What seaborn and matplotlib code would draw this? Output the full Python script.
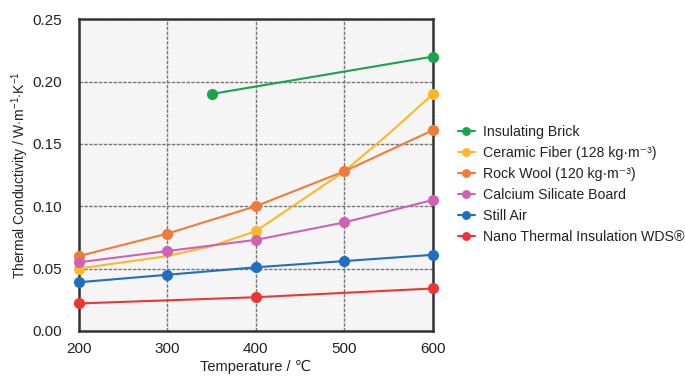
import pandas as pd
import seaborn as sns
import matplotlib.pyplot as plt

sns.set_theme(style="white")
plt.rcParams['font.family'] = ['Liberation Sans', 'DejaVu Sans']
plt.rcParams['mathtext.fontset'] = 'custom'
plt.rcParams['mathtext.rm'] = 'Liberation Sans'
plt.rcParams['mathtext.it'] = 'Liberation Sans'

# 数据
temps = [200, 300, 400, 500, 600]
brick_t = [350, 600]
brick = [0.190, 0.220]
# ceramic fiber curve read at 50 deg steps, markers only at 200/400/600
ceramic_t = [200, 250, 300, 350, 400, 450, 500, 550, 600]
ceramic = [0.050, 0.055, 0.060, 0.068, 0.080, 0.104, 0.128, 0.158, 0.190]
rock_wool = [0.060, 0.078, 0.100, 0.128, 0.161]
calcium = [0.055, 0.064, 0.073, 0.087, 0.105]
still_air = [0.039, 0.045, 0.051, 0.056, 0.061]
nano_t = [200, 400, 600]
nano = [0.022, 0.027, 0.034]

labels = ["Insulating Brick",
          "Ceramic Fiber (128 kg·m⁻³)",
          "Rock Wool (120 kg·m⁻³)",
          "Calcium Silicate Board",
          "Still Air",
          "Nano Thermal Insulation WDS®"]
colors = ["#19a34a", "#fbb829", "#f07c36", "#d062b2", "#1f6ec0", "#ee3535"]

fig = plt.figure(figsize=(6.85, 3.76), dpi=100)
ax = fig.add_axes([0.115, 0.12, 0.517, 0.829])
ax.set_facecolor("#f5f5f5")

series = [(brick_t, brick, None), (ceramic_t, ceramic, [0, 4, 8]),
          (temps, rock_wool, None), (temps, calcium, None),
          (temps, still_air, None), (nano_t, nano, None)]
for (x, y, mk), lab, c in zip(series, labels, colors):
    kw = {}
    if mk is not None:
        kw['markevery'] = mk
    sns.lineplot(x=x, y=y, ax=ax, color=c, marker='o', markersize=8,
                 markeredgewidth=0, linewidth=1.5, label=lab, clip_on=False,
                 zorder=3, **kw)

ax.set_xlim(200, 600)
ax.set_ylim(0, 0.25)
ax.set_xticks(temps)
ax.set_yticks([0, 0.05, 0.10, 0.15, 0.20, 0.25])
ax.set_yticklabels(["0.00", "0.05", "0.10", "0.15", "0.20", "0.25"])
ax.grid(True, color="#777777", linestyle=(0, (2.5, 1)), linewidth=1.0)
ax.set_axisbelow(True)
for s in ax.spines.values():
    s.set_color("#333333")
    s.set_linewidth(1.8)
ax.tick_params(axis='both', labelsize=11, colors="#222222", length=0)
ax.tick_params(axis='y', pad=12)
ax.tick_params(axis='x', pad=8)
ax.set_xlabel("Temperature / ℃", fontsize=10.5, labelpad=3, color="#222222")
ax.set_ylabel(r"Thermal Conductivity / W$\cdot$m$^{-1}$$\cdot$K$^{-1}$",
              fontsize=10, color="#222222", labelpad=1)

leg = ax.legend(loc='center left', bbox_to_anchor=(1.054, 0.469), frameon=False,
                fontsize=10.2, handlelength=1.2, labelspacing=0.5,
                handletextpad=0.6, markerscale=0.8, borderaxespad=0)
for t in leg.get_texts():
    t.set_color("#222222")

plt.savefig("out.png", dpi=100)
